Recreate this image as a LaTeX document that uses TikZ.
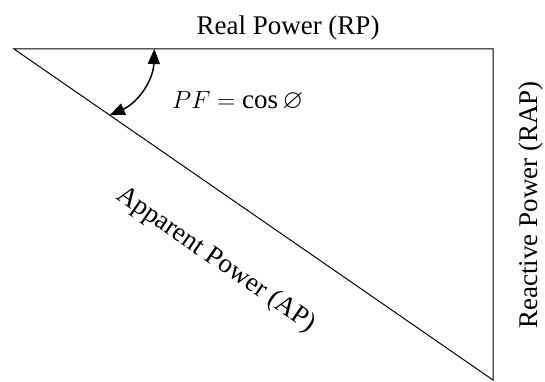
\documentclass[tikz,border=0pt]{standalone}
\usepackage{amssymb}
\usepackage{fontspec}
\setmainfont{Liberation Serif}
\usetikzlibrary{arrows.meta,calc}

\begin{document}
\begin{tikzpicture}[x=1pt, y=1pt,
    side/.style={line width=1pt},
    angarrow/.style={line width=1.5pt, {Triangle[length=15pt,width=12pt]}-{Triangle[length=15pt,width=12pt]}},
    lbl/.style={font=\fontsize{27}{32}\selectfont, inner sep=0pt}]
  \useasboundingbox (0,0) rectangle (545,381);
  % Power triangle
  \coordinate (A) at (14,332);
  \coordinate (B) at (493,332);
  \coordinate (C) at (493,1);
  \draw[side] (A) -- (B) -- (C) -- cycle;
  % Angle arrow
  \coordinate (angtop) at ($(A)!0.293!(B)$);
  \coordinate (angbot) at ($(A)!0.2!(C)$);
  \draw[angarrow] (angbot) to[bend right=32] (angtop);
  % Labels
  \node[lbl, anchor=base] (rp) at (288,346) {Real Power (RP)};
  \node[lbl, anchor=base west] (pf) at (172,273) {$PF = \cos\varnothing$};
  \node[lbl, rotate=-34.6] (ap) at (216,121) {Apparent Power (AP)};
  \node[lbl, rotate=90, anchor=base] (rap) at (537,176) {Reactive Power (RAP)};
\end{tikzpicture}
\end{document}
